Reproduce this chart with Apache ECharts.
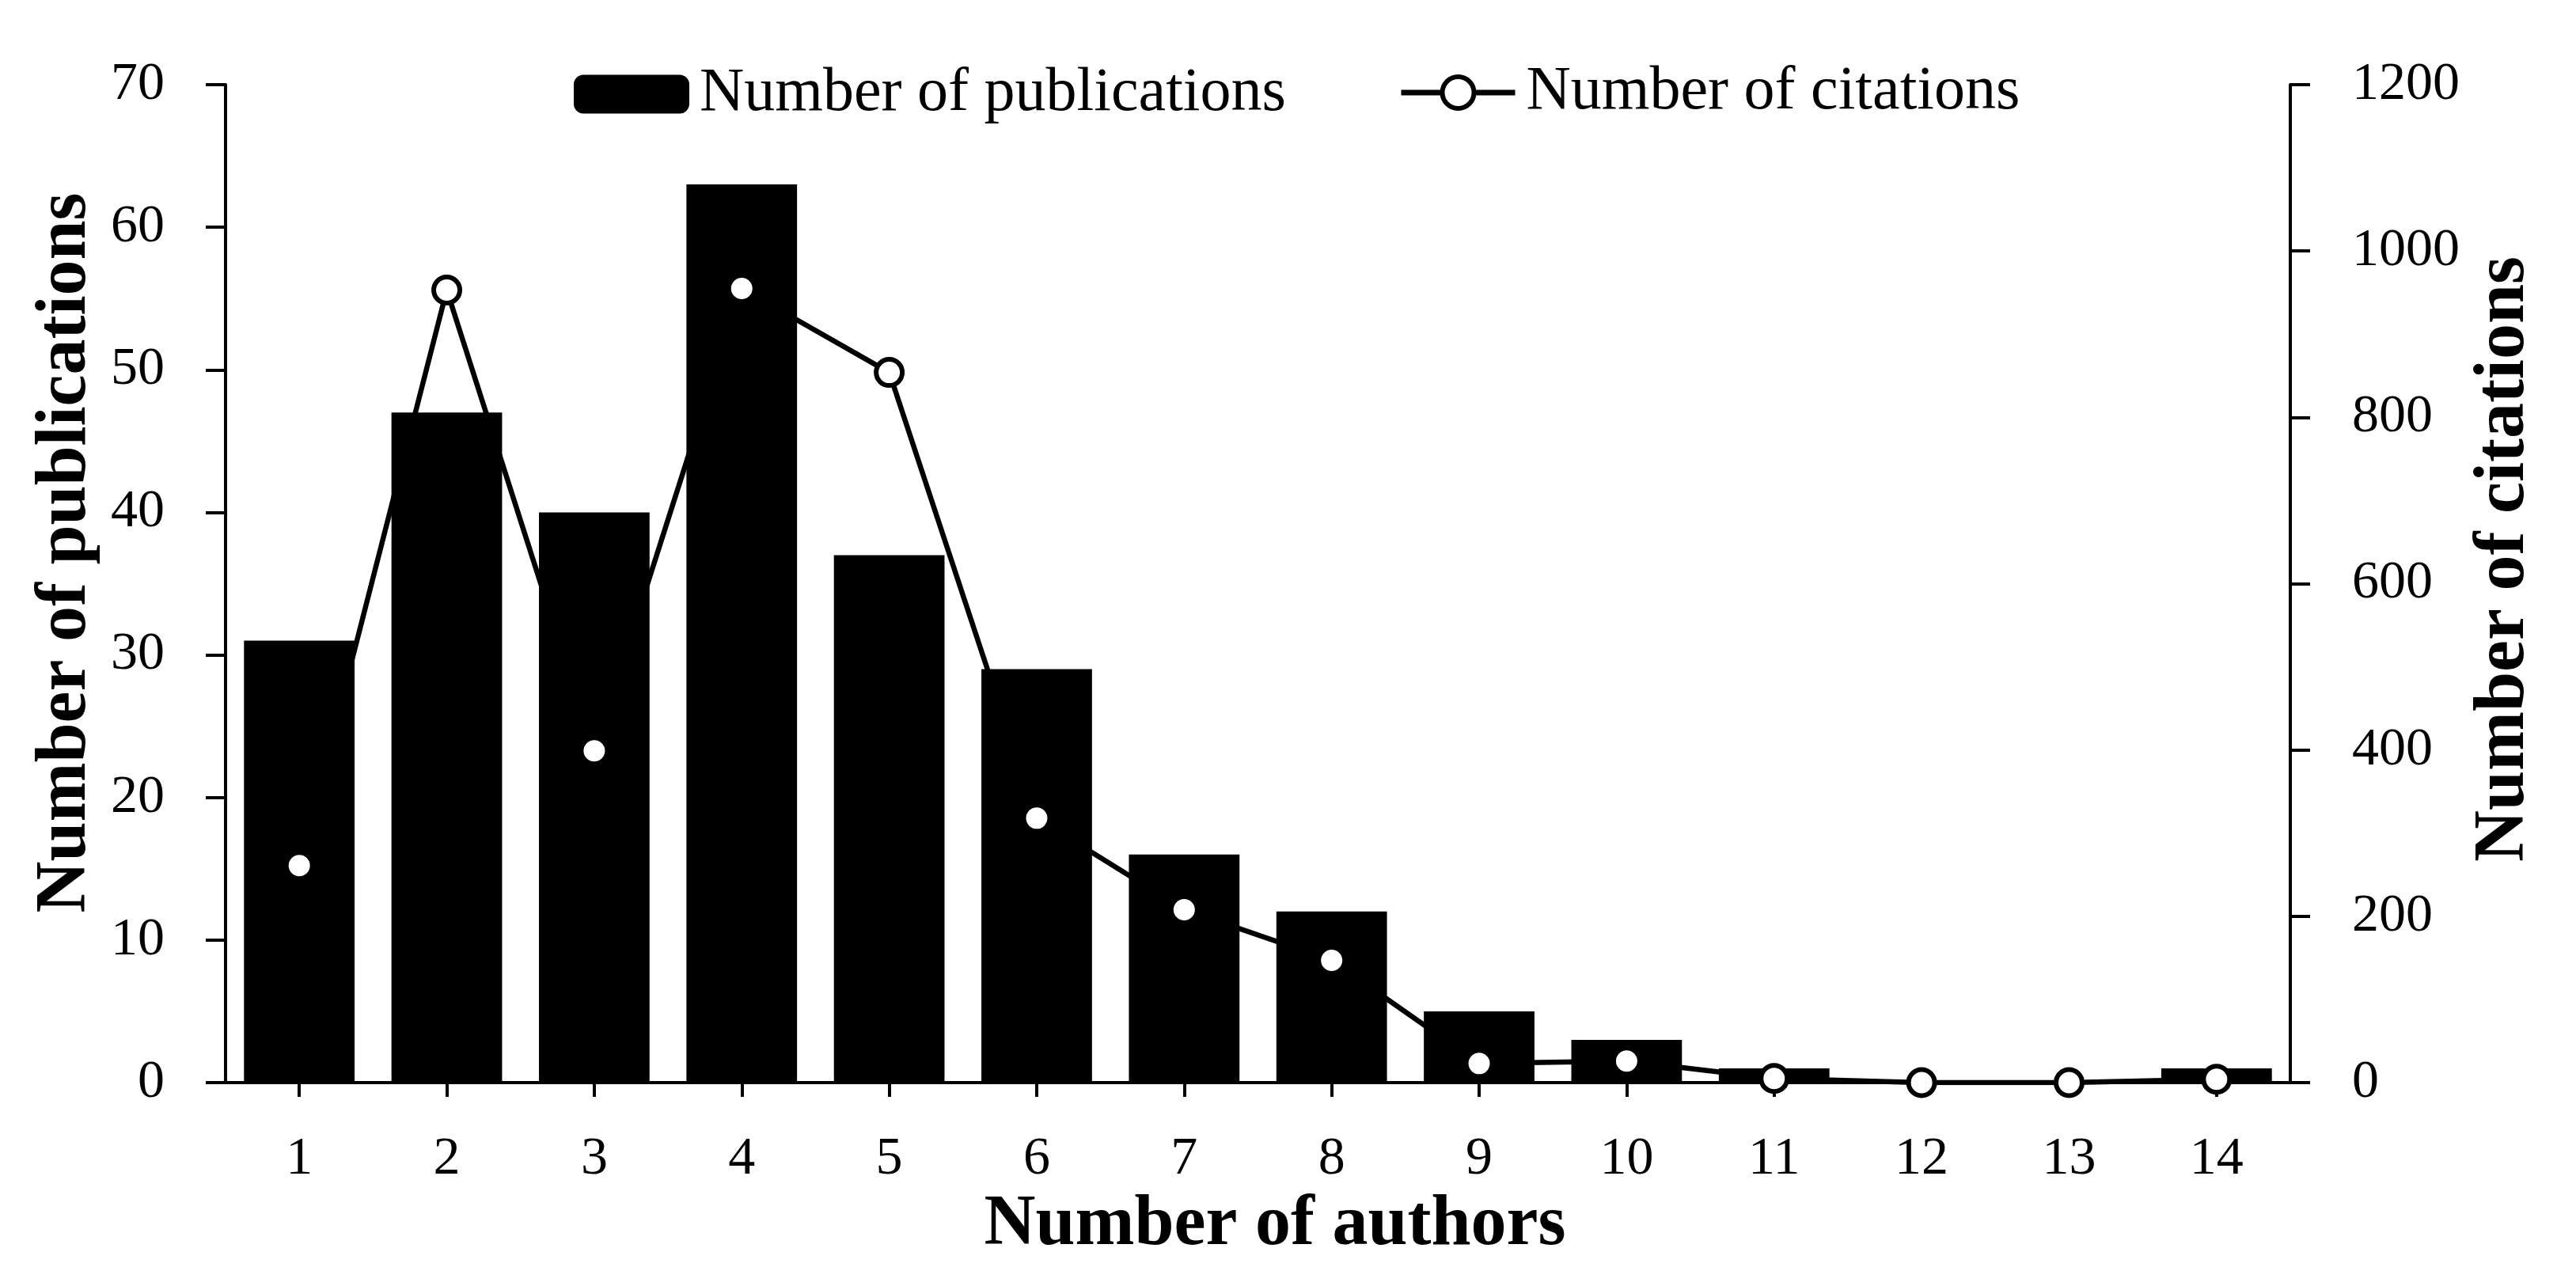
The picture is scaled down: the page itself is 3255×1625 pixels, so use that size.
<!DOCTYPE html>
<html>
<head>
<meta charset="utf-8">
<script src="https://cdn.jsdelivr.net/npm/echarts@6/dist/echarts.min.js"></script>
<style>
  html, body { margin: 0; background: #fff; }
  #main { width: 3255px; height: 1625px; }
</style>
</head>
<body>
<div id="main"></div>
<script>
// number of authors per publication
const authors = ['1', '2', '3', '4', '5', '6', '7', '8', '9', '10', '11', '12', '13', '14'];
// publications (left axis)
const publications = [31, 47, 40, 63, 37, 29, 16, 12, 5, 3, 1, 0, 0, 1];
// citations (right axis)
const citations = [261, 953, 399, 955, 854, 318, 208, 147, 23, 26, 5, 0, 0, 4];
const pubAxis = { min: 0, max: 70, interval: 10 };
const citAxis = { min: 0, max: 1200, interval: 200 };

const FONT = 'Liberation Serif';
const chart = echarts.init(document.getElementById('main'));

const axisLineStyle = { show: true, lineStyle: { color: '#000', width: 4 } };
const yTick = { show: true, length: 25, lineStyle: { color: '#000', width: 4 } };

chart.setOption({
  backgroundColor: '#fff',
  animation: false,
  grid: { left: 285, right: 361, top: 107, bottom: 257, containLabel: false },
  legend: [
    {
      data: ['Number of publications'],
      left: 720,
      top: 75,
      itemWidth: 146,
      itemHeight: 49,
      textStyle: { fontFamily: FONT, fontSize: 78, color: '#000', padding: [0, 0, 0, 8] }
    },
    {
      data: ['Number of citations'],
      left: 1762,
      top: 73,
      itemWidth: 144,
      itemHeight: 50,
      lineStyle: { width: 7 },
      itemStyle: { borderWidth: 6 },
      textStyle: { fontFamily: FONT, fontSize: 78, color: '#000', padding: [0, 0, 0, 9] }
    }
  ],
  xAxis: {
    type: 'category',
    data: authors,
    boundaryGap: true,
    name: 'Number of authors',
    nameLocation: 'middle',
    nameGap: 128,
    nameTextStyle: { fontFamily: FONT, fontSize: 90, fontWeight: 'bold', color: '#000', padding: [0, 0, 0, 43] },
    axisLine: axisLineStyle,
    axisTick: { show: true, alignWithLabel: true, interval: 0, length: 18, lineStyle: { color: '#000', width: 4 } },
    axisLabel: { fontFamily: FONT, fontSize: 68, color: '#000', margin: 63, interval: 0 },
    splitLine: { show: false }
  },
  yAxis: [
    {
      type: 'value',
      position: 'left',
      min: pubAxis.min,
      max: pubAxis.max,
      interval: pubAxis.interval,
      name: 'Number of publications',
      nameLocation: 'middle',
      nameRotate: 90,
      nameGap: 156,
      nameTextStyle: { fontFamily: FONT, fontSize: 90, fontWeight: 'bold', color: '#000', padding: [0, 0, 0, 78] },
      axisLine: axisLineStyle,
      axisTick: yTick,
      axisLabel: { fontFamily: FONT, fontSize: 68, color: '#000', margin: 77 },
      splitLine: { show: false }
    },
    {
      type: 'value',
      position: 'right',
      min: citAxis.min,
      max: citAxis.max,
      interval: citAxis.interval,
      name: 'Number of citations',
      nameLocation: 'middle',
      nameRotate: 90,
      nameGap: 226,
      nameTextStyle: { fontFamily: FONT, fontSize: 90, fontWeight: 'bold', color: '#000', padding: [0, 0, 0, 62] },
      axisLine: axisLineStyle,
      axisTick: yTick,
      axisLabel: { fontFamily: FONT, fontSize: 68, color: '#000', margin: 78, formatter: (v) => String(v) },
      splitLine: { show: false }
    }
  ],
  series: [
    {
      name: 'Number of publications',
      type: 'bar',
      yAxisIndex: 0,
      data: publications,
      barCategoryGap: '25%',
      itemStyle: { color: '#000' }
    },
    {
      name: 'Number of citations',
      type: 'line',
      yAxisIndex: 1,
      data: citations,
      symbol: 'circle',
      symbolSize: 33,
      lineStyle: { color: '#000', width: 6.5 },
      itemStyle: { color: '#fff', borderColor: '#000', borderWidth: 6 }
    }
  ]
});
</script>
</body>
</html>
